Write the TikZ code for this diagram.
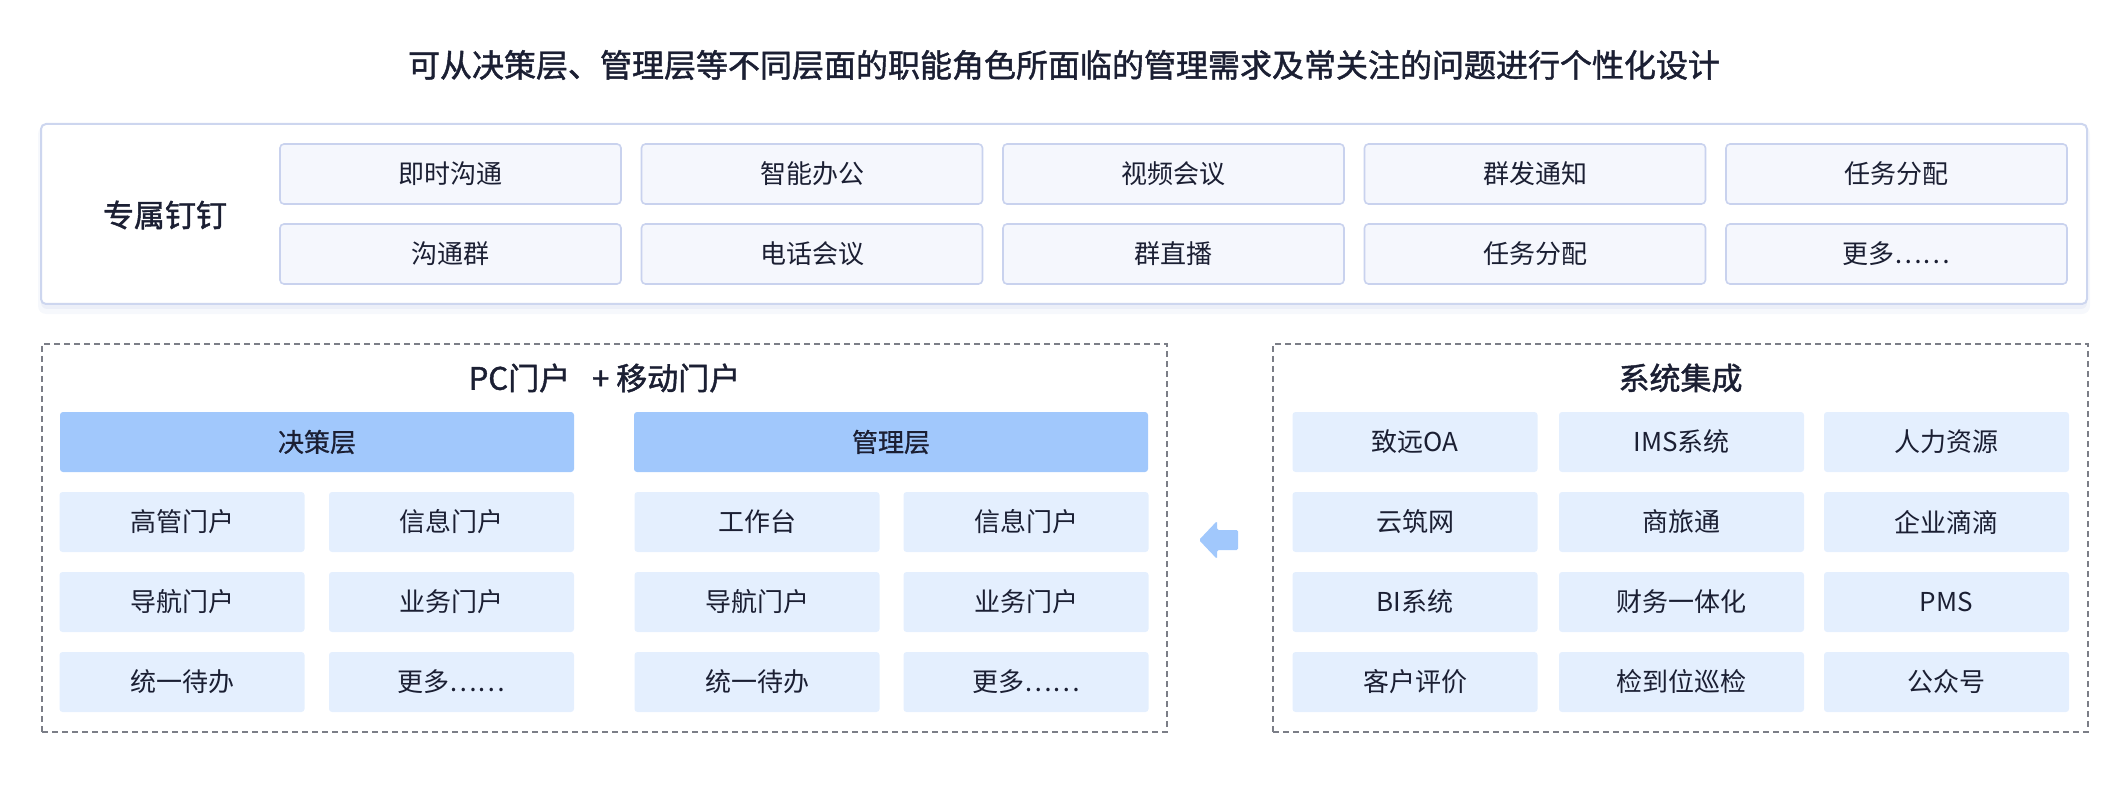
\documentclass[tikz,border=0pt]{standalone}
\usepackage{fontspec}
\setmainfont{Noto Sans CJK SC}
\newfontfamily\medfont{Noto Sans CJK SC}[FakeBold=1.4]
\newfontfamily\semfont{Noto Sans CJK SC}[FakeBold=0.8]
\definecolor{txt}{HTML}{1B1F33}
\definecolor{topborder}{HTML}{CDD6EF}
\definecolor{cellfill}{HTML}{F5F7FD}
\definecolor{cellborder}{HTML}{C9D2EE}
\definecolor{headfill}{HTML}{A1C8FC}
\definecolor{boxfill}{HTML}{E4EFFE}
\definecolor{dashc}{HTML}{7B7E87}
\definecolor{shadowc}{HTML}{E6EAF6}
\tikzset{
  base/.style={inner sep=0pt, outer sep=0pt, text=txt, align=center},
  titletext/.style={base, font=\fontsize{32}{38}\medfont},
  sectitle/.style={base, font=\fontsize{31}{36}\medfont},
  toplabel/.style={base, font=\fontsize{31}{36}\medfont},
  outerbox/.style={base, draw=topborder, line width=2pt, fill=white, rounded corners=5pt, minimum width=2046pt, minimum height=180pt},
  cell/.style={base, draw=cellborder, line width=1.6pt, fill=cellfill, rounded corners=4pt, minimum width=341pt, minimum height=60pt, font=\fontsize{26}{30}\selectfont},
  headbox/.style={base, fill=headfill, rounded corners=3pt, minimum width=514pt, minimum height=60pt, font=\fontsize{26}{30}\semfont},
  item/.style={base, fill=boxfill, rounded corners=3pt, minimum width=245pt, minimum height=60pt, font=\fontsize{26}{30}\selectfont},
  dashbox/.style={base, draw=dashc, line width=1.6pt, dash pattern=on 6pt off 4pt, minimum height=388pt},
  arrowfill/.style={fill=headfill, rounded corners=1.5pt}
}
\begin{document}
\begin{tikzpicture}[x=1pt, y=-1pt]
\useasboundingbox (0,0) rectangle (2128,802);
% title
\node[titletext] (title) at (1064,65) {可从决策层、管理层等不同层面的职能角色所面临的管理需求及常关注的问题进行个性化设计};
% shadow of top box
\fill[shadowc, opacity=0.35, rounded corners=8pt] (38,126) rectangle (2090,314);
\fill[shadowc, opacity=0.6, rounded corners=6pt] (41,126) rectangle (2087,309);
% top box
\node[outerbox] (topbox) at (1064,214) {};
\node[toplabel] (ding) at (165,215) {专属钉钉};
\node[cell] (t11) at (450.5,174) {即时沟通};
\node[cell] (t12) at (812,174) {智能办公};
\node[cell] (t13) at (1173.5,174) {视频会议};
\node[cell] (t14) at (1535,174) {群发通知};
\node[cell] (t15) at (1896.5,174) {任务分配};
\node[cell] (t21) at (450.5,254) {沟通群};
\node[cell] (t22) at (812,254) {电话会议};
\node[cell] (t23) at (1173.5,254) {群直播};
\node[cell] (t24) at (1535,254) {任务分配};
\node[cell] (t25) at (1896.5,254) {更多……};
% left dashed box
\node[dashbox, minimum width=1125pt] (portal) at (604.5,538) {};
\node[sectitle] (portaltitle) at (604.5,378) {PC门户\hspace{22pt}+ 移动门户};
\node[headbox] (jc) at (317,442) {决策层};
\node[headbox] (gl) at (891,442) {管理层};
\node[item] (a1) at (182,522) {高管门户};
\node[item] (a2) at (451.5,522) {信息门户};
\node[item] (a3) at (182,602) {导航门户};
\node[item] (a4) at (451.5,602) {业务门户};
\node[item] (a5) at (182,682) {统一待办};
\node[item] (a6) at (451.5,682) {更多……};
\node[item] (b1) at (757,522) {工作台};
\node[item] (b2) at (1026,522) {信息门户};
\node[item] (b3) at (757,602) {导航门户};
\node[item] (b4) at (1026,602) {业务门户};
\node[item] (b5) at (757,682) {统一待办};
\node[item] (b6) at (1026,682) {更多……};
% right dashed box
\node[dashbox, minimum width=815pt] (integ) at (1680.5,538) {};
\node[sectitle] (integtitle) at (1680.5,378) {系统集成};
\node[item] (s11) at (1415,442) {致远OA};
\node[item] (s12) at (1681.5,442) {IMS系统};
\node[item] (s13) at (1946.5,442) {人力资源};
\node[item] (s21) at (1415,522) {云筑网};
\node[item] (s22) at (1681.5,522) {商旅通};
\node[item] (s23) at (1946.5,522) {企业滴滴};
\node[item] (s31) at (1415,602) {BI系统};
\node[item] (s32) at (1681.5,602) {财务一体化};
\node[item] (s33) at (1946.5,602) {PMS};
\node[item] (s41) at (1415,682) {客户评价};
\node[item] (s42) at (1681.5,682) {检到位巡检};
\node[item] (s43) at (1946.5,682) {公众号};
% arrow
\coordinate (arrtip) at (1199,540);
\fill[arrowfill] (arrtip) -- (1217,521) -- (1217,530) -- (1238,530) -- (1238,550) -- (1217,550) -- (1217,559) -- cycle;
\end{tikzpicture}
\end{document}
